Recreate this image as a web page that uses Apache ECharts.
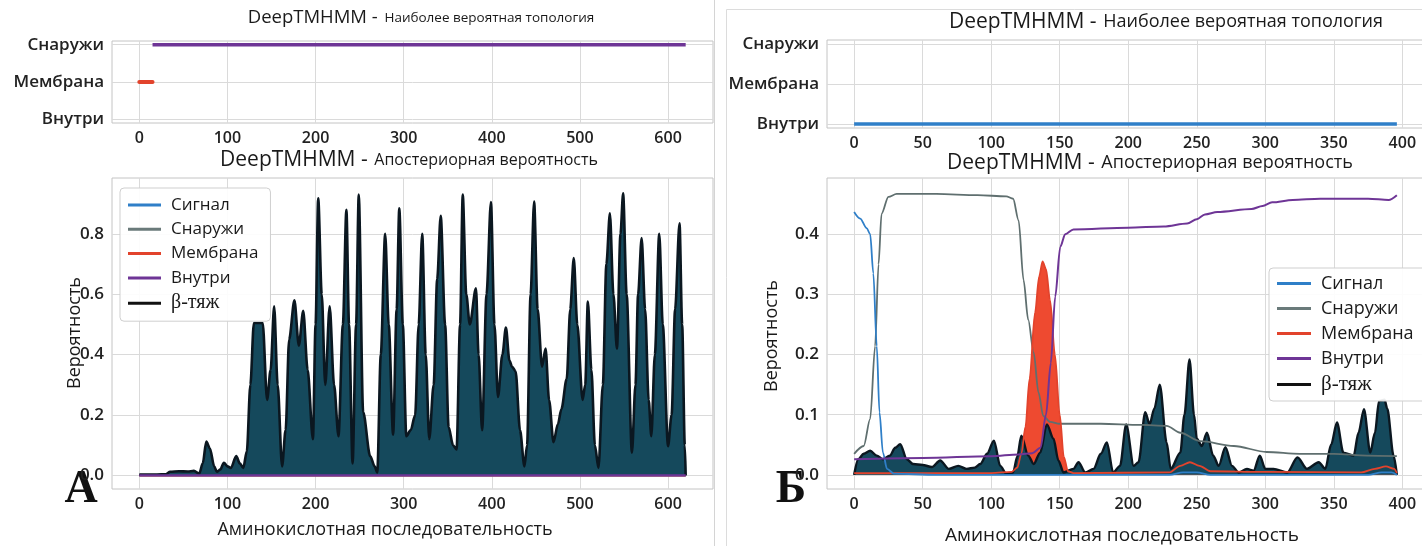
<!DOCTYPE html>
<html><head><meta charset="utf-8">
<script src="https://cdn.jsdelivr.net/npm/echarts/dist/echarts.min.js"></script>
<style>html,body{margin:0;padding:0;background:#fff}#c{width:1422px;height:546px}</style>
</head><body><div id="c"></div>
<script>
// ---------- tick labels / categories ----------
const topCategories = ['Внутри', 'Мембрана', 'Снаружи'];
const topTicks = [0, 1, 2];
const xTicksA = [0, 100, 200, 300, 400, 500, 600];
const xTicksB = [0, 50, 100, 150, 200, 250, 300, 350, 400];
const yTicksA = [0, 0.2, 0.4, 0.6, 0.8];
const yTicksB = [0, 0.1, 0.2, 0.3, 0.4];
const legendNames = ['Сигнал', 'Снаружи', 'Мембрана', 'Внутри', 'β-тяж'];

// ---------- A: most probable topology (category index) ----------
const topA_membrane = [[0, 1], [15, 1]];
const topA_outside = [[15, 2], [620, 2]];
// ---------- B: most probable topology ----------
const topB_inside = [[0, 0], [396, 0]];

// ---------- A: posterior probabilities ----------
const signalA = [[0, 0], [620, 0]];
const outsideA = [[0, 0.001], [620, 0.001]];
const membraneA = [[0, 0], [620, 0]];
const insideA = [[0, 0], [620, 0]];
const betaA = [[0,0.003],[10,0.003],[20,0.003],[30,0.004],[35,0.012],[45,0.014],[55,0.013],[62,0.015],[68,0.006],[72,0.04],[76,0.112],[80,0.09],[85,0.03],[88,0.012],[92,0.02],[96,0.042],[100,0.03],[104,0.025],[110,0.064],[114,0.04],[118,0.025],[122,0.08],[126,0.3],[130,0.505],[140,0.505],[145,0.25],[149,0.35],[153,0.56],[157,0.3],[162,0.03],[166,0.15],[170,0.45],[176,0.58],[181,0.43],[186,0.545],[191,0.35],[197,0.12],[200,0.5],[203,0.918],[207,0.6],[211,0.30],[216,0.56],[221,0.3],[226,0.13],[231,0.5],[235,0.88],[238,0.5],[242,0.04],[246,0.5],[249,0.93],[254,0.21],[262,0.064],[267,0.03],[270,0.01],[274,0.4],[279,0.80],[283,0.5],[288,0.135],[292,0.55],[295,0.885],[299,0.5],[303,0.13],[308,0.15],[313,0.2],[317,0.5],[321,0.80],[325,0.4],[329,0.12],[334,0.3],[338,0.65],[342,0.86],[347,0.5],[351,0.16],[356,0.10],[360,0.086],[364,0.5],[367,0.93],[371,0.6],[375,0.5],[382,0.62],[385,0.4],[389,0.15],[394,0.6],[399,0.905],[403,0.5],[407,0.26],[412,0.4],[416,0.49],[420,0.38],[423,0.36],[427,0.345],[432,0.15],[437,0.03],[440,0.1],[444,0.6],[448,0.907],[452,0.55],[457,0.36],[461,0.42],[465,0.25],[470,0.11],[475,0.17],[479,0.22],[485,0.32],[489,0.55],[493,0.72],[497,0.5],[503,0.25],[506,0.3],[509,0.576],[513,0.35],[517,0.1],[521,0.025],[526,0.3],[530,0.7],[534,0.868],[538,0.6],[542,0.42],[546,0.8],[549,0.934],[553,0.6],[559,0.075],[563,0.3],[566,0.6],[570,0.786],[574,0.55],[578,0.25],[581,0.13],[585,0.4],[590,0.80],[594,0.5],[600,0.097],[604,0.2],[608,0.55],[613,0.835],[616,0.5],[619,0.1],[620,0]];

// ---------- B: posterior probabilities ----------
const signalB = [[0,0.437],[4.4,0.426],[9.2,0.41],[11.7,0.40],[14,0.335],[16.5,0.214],[18.5,0.104],[21,0.037],[24,0.01],[29,0.002],[60,0],[230,0],[240,0.004],[250,0.004],[260,0],[375,0],[385,0.004],[392,0.004],[396,0]];
const outsideB = [[0,0.035],[7,0.048],[11.7,0.093],[15.3,0.214],[17.8,0.35],[20,0.434],[25,0.462],[31,0.467],[60,0.467],[90,0.465],[111,0.463],[116,0.459],[120,0.423],[123.6,0.324],[127,0.258],[131,0.203],[134.5,0.137],[138,0.098],[143,0.088],[150,0.085],[180,0.085],[209,0.083],[228,0.0815],[238,0.07],[252.6,0.056],[277,0.048],[301,0.038],[325,0.035],[350,0.035],[374,0.032],[396,0.031]];
const membraneB = [[0,0.003],[100,0.003],[115,0.005],[119,0.012],[122,0.035],[125,0.08],[128,0.16],[132,0.27],[135,0.33],[137.5,0.355],[140,0.342],[143,0.29],[146.5,0.2],[150,0.1],[153,0.03],[156,0.006],[160,0.003],[230,0.004],[238,0.015],[245,0.021],[252,0.015],[260,0.006],[300,0.005],[370,0.004],[380,0.01],[388,0.014],[394,0.01],[396,0.003]];
const insideB = [[0,0.026],[50,0.028],[100,0.031],[120,0.034],[130,0.036],[136,0.045],[140,0.10],[143.5,0.186],[146.7,0.296],[150.4,0.379],[154,0.40],[160,0.408],[200,0.411],[226,0.413],[243,0.418],[250,0.425],[256,0.433],[265,0.437],[290,0.442],[298,0.447],[305,0.453],[320,0.457],[340,0.459],[375,0.459],[390,0.457],[396,0.465]];
const betaB = [[0,0],[3,0.026],[7,0.035],[11.7,0.04],[16.5,0.032],[21,0.026],[26,0.032],[30,0.045],[33.6,0.051],[38.4,0.026],[43,0.018],[50,0.0165],[56.7,0.013],[62.8,0.024],[69,0.01],[76,0.015],[82,0.01],[88,0.012],[92,0.018],[97,0.035],[102,0.057],[106.6,0.015],[111,0.002],[116,0.004],[119,0.03],[122,0.065],[127,0.032],[131,0.018],[135.8,0.037],[140.6,0.084],[145.5,0.06],[149,0.024],[152.8,0.004],[160,0.01],[163.7,0.021],[168.6,0.004],[174.7,0.01],[180,0.035],[184.4,0.054],[189,0.004],[194,0.015],[198.5,0.084],[204,0.015],[207.5,0.021],[212.4,0.104],[215.6,0.084],[219,0.11],[223,0.15],[228,0.054],[231,0.01],[238,0.037],[241,0.1],[244.7,0.192],[248,0.1],[250,0.06],[253.7,0.048],[257.4,0.07],[262,0.032],[266,0.015],[270.9,0.046],[275.7,0.015],[280.5,0.004],[286.6,0.01],[291.5,0.007],[296,0.032],[300,0.01],[306,0.01],[316,0.004],[323.5,0.029],[330.4,0.01],[339,0.021],[343.8,0.01],[348,0.05],[352.3,0.087],[357,0.037],[364.5,0.032],[368,0.07],[372,0.109],[376.6,0.037],[380,0.07],[383,0.123],[387,0.125],[389,0.11],[393.6,0.032],[396,0]];

// ---------- styling ----------
const FONT = '"Open Sans", "Noto Sans", sans-serif';
const SERIF = '"Liberation Serif", "DejaVu Serif", serif';
const C = { signal: '#2f7fc8', outside: '#5f6f6f', membrane: '#e2432c', inside: '#6e3596', beta: '#0b1720', betaFill: '#15495c', membraneFill: '#ee4a30' };
const GRID_LINE = '#dadada';

function xAx(gridIndex, min, max, ticks) {
  return { type: 'value', gridIndex, min, max,
    axisLine: { show: false }, axisTick: { show: false, customValues: ticks },
    axisLabel: { customValues: ticks, margin: 7, fontSize: 16, color: '#222', fontFamily: FONT, fontWeight: 600 },
    splitLine: { show: true, lineStyle: { color: GRID_LINE, width: 1 } } };
}
function yAx(gridIndex, min, max, ticks, fmt, fontSize) {
  return { type: 'value', gridIndex, min, max,
    axisLine: { show: false }, axisTick: { show: false, customValues: ticks },
    axisLabel: { customValues: ticks, margin: 8, fontSize: fontSize, color: '#222', fontFamily: FONT, fontWeight: 600, formatter: fmt },
    splitLine: { show: true, lineStyle: { color: GRID_LINE, width: 1 } } };
}
const gridBase = { show: true, borderColor: '#c4c4c4', borderWidth: 1, backgroundColor: 'transparent', containLabel: false, outerBoundsMode: 'none' };

function line(name, xi, data, color, width, z, extra) {
  return Object.assign({ name, type: 'line', xAxisIndex: xi, yAxisIndex: xi, data, showSymbol: false, symbol: 'none',
    lineStyle: { color, width }, itemStyle: { color }, z, animation: false }, extra || {});
}

function legendOf(left, top, fs, lh, gap, iw, padRight, padV) {
  const cols = [C.signal, '#6a7a7a', C.membrane, C.inside, '#111'];
  return { show: true, orient: 'vertical', left, top, icon: 'rect', itemWidth: iw, itemHeight: 3, itemGap: gap,
    padding: [padV, padRight, padV, 8], backgroundColor: 'rgba(255,255,255,0.92)', borderColor: '#cfcfcf', borderWidth: 1, borderRadius: 4,
    selectedMode: false,
    textStyle: { fontSize: fs, lineHeight: lh, height: lh, color: '#1a1a1a', fontFamily: FONT, padding: [0, 0, 0, 5] },
    data: legendNames.map((n, i) => ({ name: n, itemStyle: { color: cols[i] },
      textStyle: i === 4 ? { fontFamily: SERIF, fontSize: fs + 3, lineHeight: lh, height: lh } : {} })) };
}

function titleText(x, y, fa, fb, rest) {
  return { type: 'text', x, y, style: { text: '{a|DeepTMHMM -}  {b|' + rest + '}', align: 'center', verticalAlign: 'middle', fill: '#1a1a1a',
    rich: { a: { fontSize: fa, fontFamily: FONT, fill: '#1a1a1a' }, b: { fontSize: fb, fontFamily: FONT, fill: '#1a1a1a' } } } };
}
function plainText(x, y, text, fs, rot) {
  return { type: 'text', x, y, rotation: rot || 0, style: { text, align: 'center', verticalAlign: 'middle', fontSize: fs, fontFamily: FONT, fill: '#1a1a1a' } };
}

const option = {
  animation: false,
  backgroundColor: '#fff',
  grid: [
    Object.assign({ left: 112, top: 41, width: 601, height: 82 }, gridBase),
    Object.assign({ left: 112, top: 178, width: 601, height: 311 }, gridBase),
    Object.assign({ left: 827, top: 40, width: 597, height: 88 }, gridBase),
    Object.assign({ left: 827, top: 178, width: 597, height: 311 }, gridBase)
  ],
  xAxis: [
    xAx(0, -31, 651, xTicksA),
    xAx(1, -31, 651, xTicksA),
    xAx(2, -19.8, 415.8, xTicksB),
    xAx(3, -19.8, 415.8, xTicksB)
  ],
  yAxis: [
    yAx(0, -0.1, 2.1, topTicks, v => topCategories[Math.round(v)], 17),
    yAx(1, -0.045, 0.985, yTicksA, v => v.toFixed(1), 17),
    yAx(2, -0.1, 2.1, topTicks, v => topCategories[Math.round(v)], 17),
    yAx(3, -0.0235, 0.4935, yTicksB, v => v.toFixed(1), 17)
  ],
  legend: [ legendOf(120, 188, 17, 18, 6.3, 33, 12, 8), legendOf(1269, 268, 18, 19, 6, 34, 30, 6) ],
  series: [
    // A top
    line('Топология A: мембрана', 0, topA_membrane, C.membrane, 4, 3, { lineStyle: { color: C.membrane, width: 4, cap: 'round' } }),
    line('Топология A: снаружи', 0, topA_outside, C.inside, 3.5, 3),
    // A bottom
    line('Сигнал', 1, signalA, C.signal, 2, 2),
    line('Снаружи', 1, outsideA, C.outside, 2, 2),
    line('Мембрана', 1, membraneA, C.membrane, 2, 2),
    line('β-тяж', 1, betaA, C.beta, 2.6, 3, { smooth: 0.3, smoothMonotone: 'x', areaStyle: { color: C.betaFill, opacity: 1 } }),
    line('Внутри', 1, insideA, C.inside, 2.2, 4),
    // B top
    line('Топология B: внутри', 2, topB_inside, C.signal, 3.5, 3),
    // B bottom
    line('Мембрана заливка', 3, membraneB, C.membraneFill, 0, 1, { smooth: 0.3, smoothMonotone: 'x', lineStyle: { width: 0, color: C.membraneFill }, areaStyle: { color: C.membraneFill, opacity: 1 } }),
    line('β-тяж', 3, betaB, C.beta, 2.4, 2, { smooth: 0.3, smoothMonotone: 'x', areaStyle: { color: C.betaFill, opacity: 1 } }),
    line('Снаружи', 3, outsideB, C.outside, 1.8, 3, { smooth: 0.3, smoothMonotone: 'x' }),
    line('Мембрана', 3, membraneB, C.membrane, 1.8, 3, { smooth: 0.3, smoothMonotone: 'x' }),
    line('Сигнал', 3, signalB, C.signal, 1.8, 4, { smooth: 0.3, smoothMonotone: 'x' }),
    line('Внутри', 3, insideB, C.inside, 2, 4, { smooth: 0.3, smoothMonotone: 'x' })
  ],
  graphic: [
    { type: 'line', shape: { x1: 714.5, y1: 0, x2: 714.5, y2: 546 }, style: { stroke: '#d4d4d4', lineWidth: 1 }, silent: true },
    { type: 'line', shape: { x1: 726.5, y1: 9.5, x2: 1422, y2: 9.5 }, style: { stroke: '#dcdcdc', lineWidth: 1 }, silent: true },
    { type: 'line', shape: { x1: 726.5, y1: 9.5, x2: 726.5, y2: 546 }, style: { stroke: '#dcdcdc', lineWidth: 1 }, silent: true },
    titleText(421, 18, 18.5, 13.5, 'Наиболее вероятная топология'),
    titleText(409, 160, 21, 16, 'Апостериорная вероятность'),
    titleText(1166, 22, 21, 18, 'Наиболее вероятная топология'),
    titleText(1150, 163, 21, 18, 'Апостериорная вероятность'),
    plainText(385, 530, 'Аминокислотная последовательность', 18),
    plainText(1122, 536, 'Аминокислотная последовательность', 19),
    plainText(75, 333, 'Вероятность', 18, Math.PI / 2),
    plainText(772, 336, 'Вероятность', 18, Math.PI / 2),
    { type: 'text', x: 81, y: 490, style: { text: 'A', align: 'center', verticalAlign: 'middle', fontSize: 46, fontWeight: 'bold', fontFamily: SERIF, fill: '#111' } },
    { type: 'text', x: 791, y: 490, style: { text: 'Б', align: 'center', verticalAlign: 'middle', fontSize: 46, fontWeight: 'bold', fontFamily: SERIF, fill: '#111' } }
  ]
};
const chart = echarts.init(document.getElementById('c'), null, { renderer: 'canvas' });
chart.setOption(option);
</script></body></html>
